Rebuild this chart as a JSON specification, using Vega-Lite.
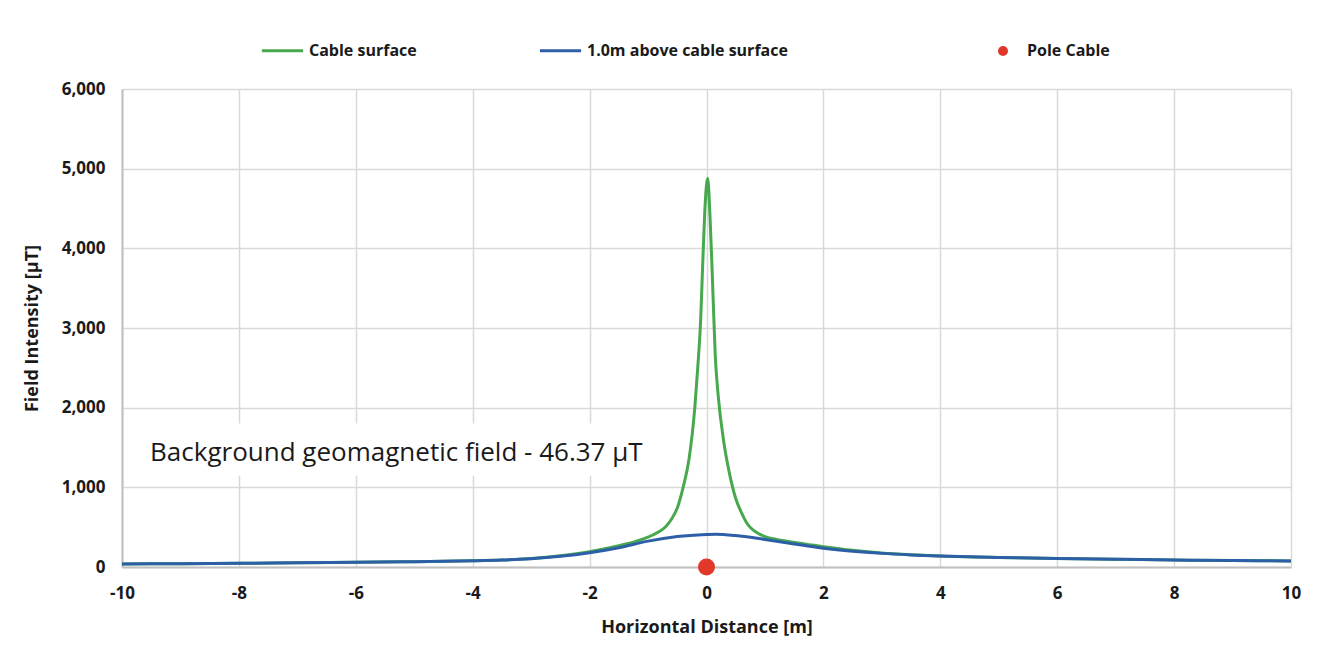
{
  "$schema": "https://vega.github.io/schema/vega-lite/v6.json",
  "width": 1169,
  "height": 478,
  "autosize": "none",
  "padding": {"left": 122, "top": 89, "right": 36, "bottom": 81},
  "background": "white",
  "config": {
    "view": {"stroke": null},
    "font": "Open Sans",
    "axis": {
      "labelFont": "Open Sans",
      "labelFontWeight": "bold",
      "labelFontSize": 17,
      "labelColor": "#1a1a1a",
      "labelFlush": false,
      "titleFont": "Open Sans",
      "titleFontWeight": "bold",
      "titleFontSize": 18,
      "titleColor": "#1a1a1a",
      "gridColor": "#d9d9d9",
      "gridWidth": 1.5,
      "domainColor": "#bfbfbf",
      "domainWidth": 2,
      "ticks": false
    },
    "legend": {
      "labelFont": "Open Sans",
      "labelFontWeight": "bold",
      "labelFontSize": 16,
      "labelColor": "#1a1a1a",
      "labelLimit": 400
    }
  },
  "datasets": {
    "curves": [
      {"series": "Cable surface", "x": -10, "y": 38},
      {"series": "Cable surface", "x": -9, "y": 42},
      {"series": "Cable surface", "x": -8, "y": 46},
      {"series": "Cable surface", "x": -7, "y": 52},
      {"series": "Cable surface", "x": -6, "y": 59},
      {"series": "Cable surface", "x": -5, "y": 67},
      {"series": "Cable surface", "x": -4, "y": 78},
      {"series": "Cable surface", "x": -3.5, "y": 88},
      {"series": "Cable surface", "x": -3, "y": 106},
      {"series": "Cable surface", "x": -2.5, "y": 140},
      {"series": "Cable surface", "x": -2, "y": 192},
      {"series": "Cable surface", "x": -1.8, "y": 220},
      {"series": "Cable surface", "x": -1.6, "y": 250},
      {"series": "Cable surface", "x": -1.4, "y": 285},
      {"series": "Cable surface", "x": -1.2, "y": 325},
      {"series": "Cable surface", "x": -1, "y": 375},
      {"series": "Cable surface", "x": -0.9, "y": 408},
      {"series": "Cable surface", "x": -0.8, "y": 448},
      {"series": "Cable surface", "x": -0.7, "y": 505},
      {"series": "Cable surface", "x": -0.6, "y": 600},
      {"series": "Cable surface", "x": -0.5, "y": 740},
      {"series": "Cable surface", "x": -0.4, "y": 1000},
      {"series": "Cable surface", "x": -0.3, "y": 1350},
      {"series": "Cable surface", "x": -0.2, "y": 2000},
      {"series": "Cable surface", "x": -0.15, "y": 2500},
      {"series": "Cable surface", "x": -0.1, "y": 3100},
      {"series": "Cable surface", "x": -0.06, "y": 3900},
      {"series": "Cable surface", "x": -0.03, "y": 4450},
      {"series": "Cable surface", "x": 0.02, "y": 4880},
      {"series": "Cable surface", "x": 0.06, "y": 4400},
      {"series": "Cable surface", "x": 0.1, "y": 3650},
      {"series": "Cable surface", "x": 0.15, "y": 2650},
      {"series": "Cable surface", "x": 0.2, "y": 2150},
      {"series": "Cable surface", "x": 0.3, "y": 1550},
      {"series": "Cable surface", "x": 0.4, "y": 1150},
      {"series": "Cable surface", "x": 0.5, "y": 860},
      {"series": "Cable surface", "x": 0.6, "y": 680},
      {"series": "Cable surface", "x": 0.7, "y": 540},
      {"series": "Cable surface", "x": 0.8, "y": 462},
      {"series": "Cable surface", "x": 0.9, "y": 415},
      {"series": "Cable surface", "x": 1, "y": 382},
      {"series": "Cable surface", "x": 1.2, "y": 345},
      {"series": "Cable surface", "x": 1.4, "y": 320},
      {"series": "Cable surface", "x": 1.6, "y": 298},
      {"series": "Cable surface", "x": 1.8, "y": 275},
      {"series": "Cable surface", "x": 2, "y": 255},
      {"series": "Cable surface", "x": 2.5, "y": 210},
      {"series": "Cable surface", "x": 3, "y": 176},
      {"series": "Cable surface", "x": 3.5, "y": 154},
      {"series": "Cable surface", "x": 4, "y": 138},
      {"series": "Cable surface", "x": 5, "y": 120},
      {"series": "Cable surface", "x": 6, "y": 108},
      {"series": "Cable surface", "x": 7, "y": 98},
      {"series": "Cable surface", "x": 8, "y": 88},
      {"series": "Cable surface", "x": 9, "y": 81},
      {"series": "Cable surface", "x": 10, "y": 75},
      {"series": "1.0m above cable surface", "x": -10, "y": 38},
      {"series": "1.0m above cable surface", "x": -9, "y": 42},
      {"series": "1.0m above cable surface", "x": -8, "y": 46},
      {"series": "1.0m above cable surface", "x": -7, "y": 52},
      {"series": "1.0m above cable surface", "x": -6, "y": 59},
      {"series": "1.0m above cable surface", "x": -5, "y": 67},
      {"series": "1.0m above cable surface", "x": -4, "y": 78},
      {"series": "1.0m above cable surface", "x": -3.5, "y": 88},
      {"series": "1.0m above cable surface", "x": -3, "y": 105},
      {"series": "1.0m above cable surface", "x": -2.5, "y": 135},
      {"series": "1.0m above cable surface", "x": -2, "y": 180},
      {"series": "1.0m above cable surface", "x": -1.5, "y": 242},
      {"series": "1.0m above cable surface", "x": -1, "y": 325},
      {"series": "1.0m above cable surface", "x": -0.5, "y": 382},
      {"series": "1.0m above cable surface", "x": 0, "y": 408},
      {"series": "1.0m above cable surface", "x": 0.15, "y": 412},
      {"series": "1.0m above cable surface", "x": 0.5, "y": 395},
      {"series": "1.0m above cable surface", "x": 1, "y": 345},
      {"series": "1.0m above cable surface", "x": 1.5, "y": 290},
      {"series": "1.0m above cable surface", "x": 2, "y": 236},
      {"series": "1.0m above cable surface", "x": 2.5, "y": 198},
      {"series": "1.0m above cable surface", "x": 3, "y": 171},
      {"series": "1.0m above cable surface", "x": 3.5, "y": 152},
      {"series": "1.0m above cable surface", "x": 4, "y": 138},
      {"series": "1.0m above cable surface", "x": 5, "y": 120},
      {"series": "1.0m above cable surface", "x": 6, "y": 108},
      {"series": "1.0m above cable surface", "x": 7, "y": 98},
      {"series": "1.0m above cable surface", "x": 8, "y": 88},
      {"series": "1.0m above cable surface", "x": 9, "y": 81},
      {"series": "1.0m above cable surface", "x": 10, "y": 75}
    ],
    "pole": [{"series": "Pole Cable", "x": 0, "y": 0}],
    "note": [{"x": -9.52, "x2": -1.0, "y": 1330, "ylo": 1150, "yhi": 1800, "text": "Background geomagnetic field - 46.37 μT"}]
  },
  "layer": [
    {
      "data": {"name": "note"},
      "mark": {"type": "rect", "color": "white"},
      "encoding": {
        "x": {"field": "x", "type": "quantitative", "scale": {"domain": [-10, 10], "nice": false},
          "axis": {"values": [-10, -8, -6, -4, -2, 0, 2, 4, 6, 8, 10], "labelExpr": "'' + datum.value", "title": "Horizontal Distance [m]", "labelPadding": 18, "titlePadding": 17, "grid": true}},
        "x2": {"field": "x2"},
        "y": {"field": "ylo", "type": "quantitative", "scale": {"domain": [0, 6000], "nice": false},
          "axis": {"values": [0, 1000, 2000, 3000, 4000, 5000, 6000], "format": ",d", "title": "Field Intensity [μT]", "labelPadding": 17, "titlePadding": 20, "grid": true}},
        "y2": {"field": "yhi"}
      }
    },
    {
      "data": {"name": "curves"},
      "transform": [{"filter": "datum.series === 'Cable surface'"}],
      "mark": {"type": "line", "strokeWidth": 3, "interpolate": "monotone"},
      "encoding": {
        "x": {"field": "x", "type": "quantitative"},
        "y": {"field": "y", "type": "quantitative"},
        "stroke": {"field": "series", "type": "nominal",
          "scale": {"domain": ["Cable surface", "1.0m above cable surface"], "range": ["#47a84d", "#2d5fa8"]},
          "legend": {"orient": "none", "legendX": 138, "legendY": -61, "direction": "horizontal", "title": null, "symbolType": "stroke", "symbolSize": 1700, "symbolStrokeWidth": 3, "columnPadding": 116, "labelOffset": 4}}
      }
    },
    {
      "data": {"name": "curves"},
      "transform": [{"filter": "datum.series !== 'Cable surface'"}],
      "mark": {"type": "line", "strokeWidth": 3, "interpolate": "monotone"},
      "encoding": {
        "x": {"field": "x", "type": "quantitative"},
        "y": {"field": "y", "type": "quantitative"},
        "stroke": {"field": "series", "type": "nominal"}
      }
    },
    {
      "data": {"name": "pole"},
      "mark": {"type": "circle", "size": 290, "opacity": 1},
      "encoding": {
        "x": {"field": "x", "type": "quantitative"},
        "y": {"field": "y", "type": "quantitative"},
        "fill": {"field": "series", "type": "nominal",
          "scale": {"domain": ["Pole Cable"], "range": ["#e2372b"]},
          "legend": {"orient": "none", "legendX": 873, "legendY": -46, "title": null, "symbolType": "circle", "symbolSize": 100, "labelOffset": 16}}
      }
    },
    {
      "data": {"name": "note"},
      "mark": {"type": "text", "font": "Open Sans", "fontSize": 26, "align": "left", "baseline": "alphabetic", "color": "#1a1a1a"},
      "encoding": {
        "x": {"field": "x", "type": "quantitative"},
        "y": {"field": "y", "type": "quantitative"},
        "text": {"field": "text"}
      }
    }
  ]
}
